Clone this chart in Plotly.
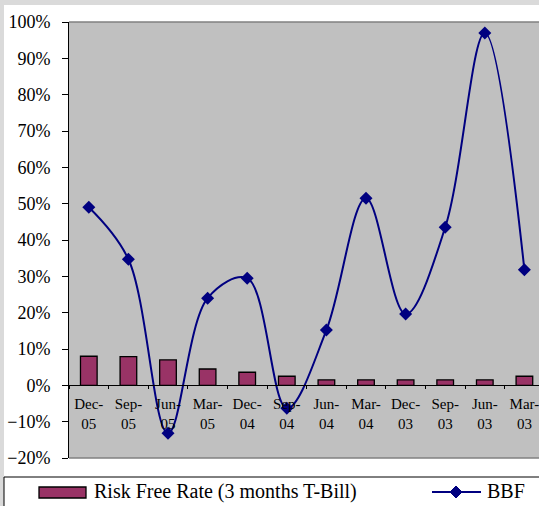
import plotly.graph_objects as go

categories = ["Dec-05", "Sep-05", "Jun-05", "Mar-05", "Dec-04", "Sep-04",
              "Jun-04", "Mar-04", "Dec-03", "Sep-03", "Jun-03", "Mar-03"]
risk_free = [0.080, 0.079, 0.070, 0.045, 0.036, 0.025,
             0.015, 0.015, 0.015, 0.015, 0.015, 0.025]
bbf = [0.490, 0.347, -0.132, 0.240, 0.295, -0.063,
       0.152, 0.515, 0.196, 0.435, 0.970, 0.318]
tick_labels = [c.replace("-", "-<br>") for c in categories]
y_ticks = [-0.2, -0.1, 0.0, 0.1, 0.2, 0.3, 0.4, 0.5, 0.6, 0.7, 0.8, 0.9, 1.0]

FONT = "Liberation Serif, Times New Roman, serif"
W, H = 539, 506
L, T, PW, PH = 69, 22, 470, 436
XMAX = -0.5 + PW / 39.6


def px(x):
    return (x - L) / PW


def py(y):
    return (T + PH - y) / PH


fig = go.Figure()
fig.add_trace(go.Bar(
    x=categories, y=risk_free, name="Risk Free Rate (3 months T-Bill)",
    marker=dict(color="#993366", line=dict(color="black", width=1.3)),
    width=0.42, showlegend=False,
))
fig.add_trace(go.Scatter(
    x=categories, y=bbf, name="BBF", mode="lines+markers",
    line=dict(color="#000080", width=2, shape="spline", smoothing=1.0),
    marker=dict(symbol="diamond", size=10, color="#000080"),
    showlegend=False,
))

shapes = [
    # outer gray strips
    dict(type="rect", xref="paper", yref="paper", x0=px(-5), x1=px(4), y0=py(520), y1=py(-5),
         fillcolor="#dadada", line=dict(width=0)),
    dict(type="rect", xref="paper", yref="paper", x0=px(-5), x1=px(560), y0=py(5), y1=py(-5),
         fillcolor="#dadada", line=dict(width=0)),
    # plot border top / bottom
    dict(type="line", xref="paper", yref="paper", x0=0, x1=1.05, y0=1, y1=1,
         line=dict(color="#808080", width=1.5)),
    dict(type="line", xref="paper", yref="paper", x0=0, x1=1.05, y0=0, y1=0,
         line=dict(color="#808080", width=1.5)),
    # legend box
    dict(type="rect", xref="paper", yref="paper", x0=px(4), x1=px(560), y0=py(515), y1=py(477),
         line=dict(color="black", width=1), fillcolor="rgba(0,0,0,0)"),
    # legend bar swatch
    dict(type="rect", xref="paper", yref="paper", x0=px(39), x1=px(86), y0=py(498), y1=py(487),
         fillcolor="#993366", line=dict(color="black", width=1.3)),
    # legend line
    dict(type="line", xref="paper", yref="paper", x0=px(432), x1=px(481), y0=py(492), y1=py(492),
         line=dict(color="#000080", width=2)),
    dict(type="path", xref="paper", yref="paper",
         path=f"M {px(450)},{py(492)} L {px(456)},{py(486)} L {px(462)},{py(492)} L {px(456)},{py(498)} Z",
         fillcolor="#000080", line=dict(color="#000080", width=1)),
]

annotations = [
    dict(xref="paper", yref="paper", x=px(92), y=py(491), xanchor="left", yanchor="middle",
         text="Risk Free Rate (3 months T-Bill)", showarrow=False,
         font=dict(family=FONT, size=20, color="black")),
    dict(xref="paper", yref="paper", x=px(485), y=py(491), xanchor="left", yanchor="middle",
         text="BBF", showarrow=False,
         font=dict(family=FONT, size=20, color="black")),
]

fig.update_layout(
    width=W, height=H,
    margin=dict(l=L, r=W - L - PW, t=T, b=H - T - PH, pad=0),
    paper_bgcolor="white", plot_bgcolor="#c0c0c0",
    bargap=0.58,
    showlegend=False,
    shapes=shapes, annotations=annotations,
    font=dict(family=FONT, color="black"),
    xaxis=dict(
        type="category", range=[-0.5, XMAX], anchor="free", position=1 / 6,
        showline=True, linecolor="black", linewidth=1,
        ticks="outside", ticklen=3, tickcolor="black", tickson="boundaries",
        tickvals=categories, ticktext=tick_labels, ticklabelstandoff=5,
        tickfont=dict(family=FONT, size=15, color="black"),
        showgrid=False, zeroline=False,
    ),
    yaxis=dict(
        range=[-0.2, 1.0], tickvals=y_ticks, tickformat=".0%",
        showline=True, linecolor="black", linewidth=1,
        ticks="outside", ticklen=6, tickcolor="black", ticklabelstandoff=8,
        tickfont=dict(family=FONT, size=18, color="black"),
        showgrid=False, zeroline=False,
    ),
    yaxis2=dict(
        overlaying="y", anchor="x", side="left", range=[-0.2, 1.0], tickvals=y_ticks,
        ticks="inside", ticklen=6, tickcolor="black", showticklabels=False,
        showline=False, showgrid=False, zeroline=False,
    ),
    xaxis2=dict(
        overlaying="x", anchor="free", position=1 / 6, range=[-0.5, XMAX],
        tickvals=[i + 0.5 for i in range(11)],
        ticks="inside", ticklen=3, tickcolor="black", showticklabels=False,
        showline=False, showgrid=False, zeroline=False,
    ),
)

fig.write_html(
    "out.html",
    config={"displayModeBar": False},
    post_script="document.body.style.margin='0px';document.body.style.overflow='hidden';",
)
